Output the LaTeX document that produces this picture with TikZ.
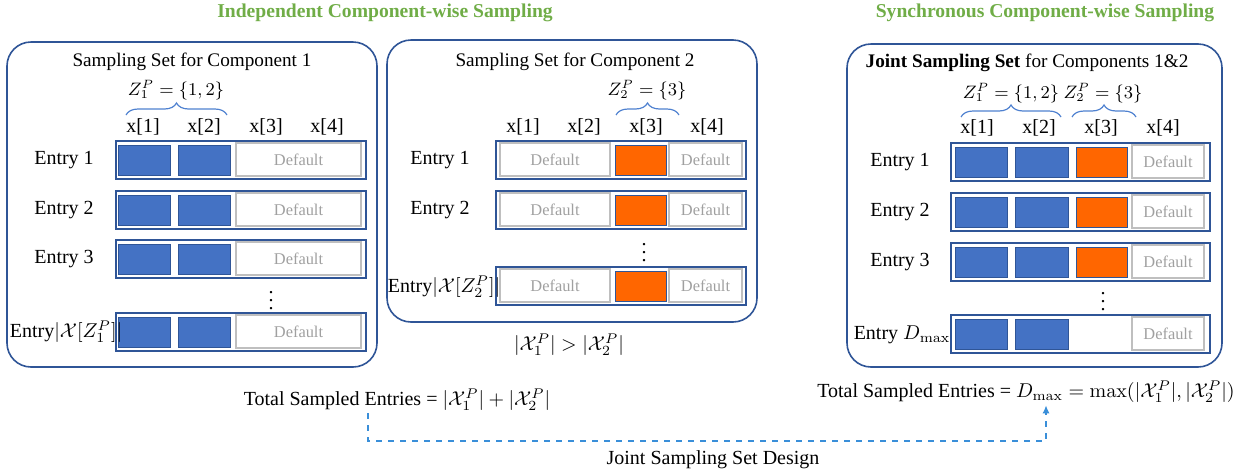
\documentclass[tikz,border=0pt]{standalone}
\usepackage[no-math]{fontspec}
\setmainfont{Liberation Serif}
\usetikzlibrary{arrows.meta,calc,decorations.pathreplacing}
\definecolor{frameblue}{HTML}{2F5597}
\definecolor{compone}{HTML}{4472C4}
\definecolor{comptwo}{HTML}{FF6600}
\definecolor{dfltline}{HTML}{BFBFBF}
\definecolor{dflttext}{HTML}{A0A0A0}
\definecolor{headgreen}{HTML}{70AD47}
\definecolor{braceblue}{HTML}{4F81D0}
\definecolor{linkblue}{HTML}{3A8FD9}

\tikzset{
 panel/.style={draw=frameblue,line width=0.8pt,rounded corners=12pt},
 rowbox/.style={draw=frameblue,line width=0.7pt},
 cellA/.style={draw=frameblue,fill=compone,line width=0.5pt},
 cellB/.style={draw=frameblue,fill=comptwo,line width=0.5pt},
 dflt/.style={draw=dfltline,line width=0.7pt},
 dtext/.style={text=dflttext,font=\fontsize{8.2}{9}\selectfont},
 zbrace/.style={draw=braceblue,line width=0.6pt,decorate,decoration={brace,amplitude=6pt}},
 zlab/.style={font=\fontsize{9}{10}\selectfont},
 head/.style={text=headgreen,font=\bfseries\fontsize{9.8}{11}\selectfont},
 design/.style={draw=linkblue,dashed,line width=0.7pt,-{Latex[length=4pt,width=3.5pt]}},
}

\begin{document}
\begin{tikzpicture}[x=0.5pt,y=-0.5pt,font=\fontsize{10}{12}\selectfont,inner sep=1pt]
\useasboundingbox (0,0) rectangle (1240,472);
\node[head] (h1) at (385,13) {Independent Component-wise Sampling};
\node[head] (h2) at (1045,13) {Synchronous Component-wise Sampling};
% left: component 1 sampled on its own
\begin{scope}
 \draw[panel] (7,42) rectangle (377,367);
 \node[font=\fontsize{9.6}{11}\selectfont] (s1) at (192,62) {Sampling Set for Component 1};
 \draw[zbrace] (126,115) -- (227,115);
 \node[zlab] (za) at (176,90) {$Z_1^P=\{1,2\}$};
 \foreach \c/\x in {1/143,2/204,3/266,4/327} {\node (xa\c) at (\x,127) {x[\c]};}
 \foreach \y [count=\k] in {141,191,240,313} {
  \draw[rowbox] (116,\y) rectangle (366,\y+38);
  \draw[cellA] (118,\y+4) rectangle (170,\y+34);
  \draw[cellA] (178,\y+4) rectangle (230,\y+34);
  \draw[dflt] (236,\y+2) rectangle (361,\y+35);
  \node[dtext] (da\k) at (298.5,\y+18.5) {Default};
 }
 \foreach \y [count=\k] in {141,191,240} {\node (ea\k) at (64,\y+19) {Entry \k};}
 \node (ea4) at (66,332) {Entry$|\mathcal{X}[Z_1^P]|$};
 \node (va) at (271,295) {$\vdots$};
\end{scope}
% middle: component 2 sampled on its own
\begin{scope}
 \draw[panel] (387,40) rectangle (757,322);
 \node[font=\fontsize{9.6}{11}\selectfont] (s2) at (575,62) {Sampling Set for Component 2};
 \draw[zbrace] (616,115) -- (679,115);
 \node[zlab] (zb) at (647,90) {$Z_2^P=\{3\}$};
 \foreach \c/\x in {1/523,2/584,3/646,4/707} {\node (xb\c) at (\x,127) {x[\c]};}
 \foreach \y [count=\k] in {141,191,267} {
  \draw[rowbox] (496,\y) rectangle (746,\y+38);
  \draw[dflt] (500,\y+2) rectangle (610,\y+35);
  \draw[cellB] (615,\y+4) rectangle (666,\y+34);
  \draw[dflt] (669,\y+2) rectangle (742,\y+35);
  \node[dtext] (db\k) at (555,\y+18.5) {Default};
  \node[dtext] (dc\k) at (705.5,\y+18.5) {Default};
 }
 \foreach \y [count=\k] in {141,191} {\node (eb\k) at (440,\y+19) {Entry \k};}
 \node (eb3) at (444,287) {Entry$|\mathcal{X}[Z_2^P]|$};
 \node (vb) at (644,247) {$\vdots$};
 \node (cmp) at (569,345) {$|\mathcal{X}_1^P|>|\mathcal{X}_2^P|$};
\end{scope}
% right: both components in one joint set
\begin{scope}
 \draw[panel] (847,44) rectangle (1222,367);
 \node[font=\fontsize{9.6}{11}\selectfont] (s3) at (1027,63) {\textbf{Joint Sampling Set} for Components 1\&2};
 \draw[zbrace] (961,117) -- (1061,117);
 \draw[zbrace] (1072,117) -- (1136,117);
 \node[zlab] (zc) at (1011,93) {$Z_1^P=\{1,2\}$};
 \node[zlab] (zd) at (1103,93) {$Z_2^P=\{3\}$};
 \foreach \c/\x in {1/977,2/1039,3/1101,4/1163} {\node (xc\c) at (\x,128) {x[\c]};}
 \foreach \y [count=\k] in {143,193,243,315} {
  \draw[rowbox] (951,\y) rectangle (1210,\y+38);
  \draw[cellA] (955,\y+4) rectangle (1007,\y+34);
  \draw[cellA] (1015,\y+4) rectangle (1068,\y+34);
  \draw[dflt] (1132,\y+2) rectangle (1204,\y+35);
  \node[dtext] (dd\k) at (1168,\y+18.5) {Default};
 }
 \foreach \y in {143,193,243} {\draw[cellB] (1076,\y+4) rectangle (1127,\y+34);}
 \foreach \y [count=\k] in {143,193,243} {\node (ec\k) at (900,\y+19) {Entry \k};}
 \node (ec4) at (902,335) {Entry $D_{\max}$};
 \node (vc) at (1103,296) {$\vdots$};
\end{scope}
% totals and the link between them
\node (tot1) at (397,400) {Total Sampled Entries = $|\mathcal{X}_1^P|+|\mathcal{X}_2^P|$};
\node (tot2) at (1026,392) {Total Sampled Entries = $D_{\max}=\max(|\mathcal{X}_1^P|,|\mathcal{X}_2^P|)$};
\coordinate (bl) at (368,441);
\coordinate (br) at (1046,441);
\draw[design] (tot1.south -| bl) -- (bl) -- (br) -- (tot2.south -| br);
\node (jd) at (713,460) {Joint Sampling Set Design};
\end{tikzpicture}
\end{document}
